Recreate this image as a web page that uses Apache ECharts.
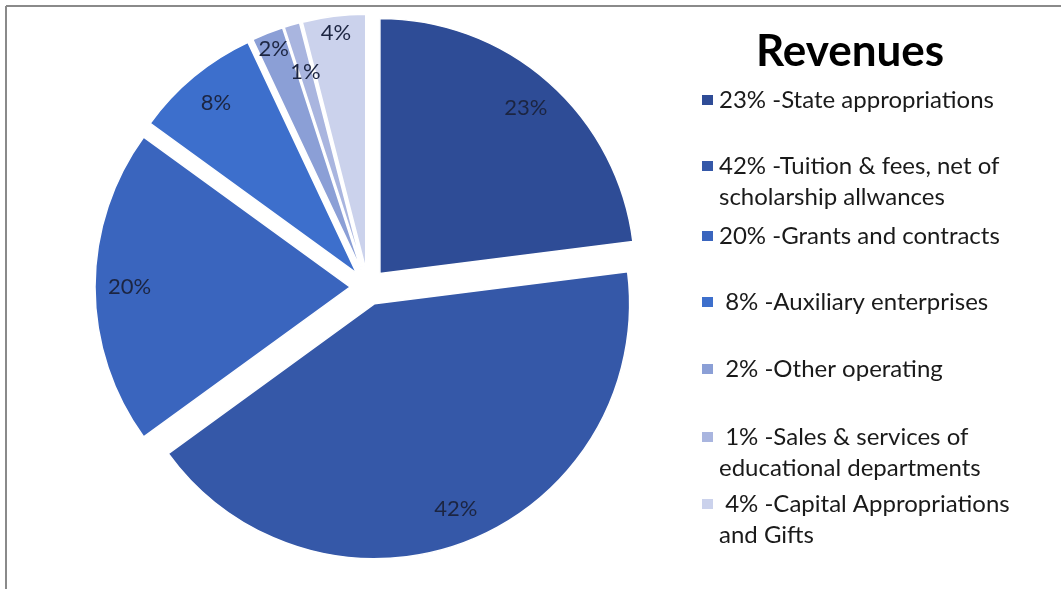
<!DOCTYPE html>
<html>
<head>
<meta charset="utf-8">
<script src="https://cdn.jsdelivr.net/npm/echarts@6/dist/echarts.min.js"></script>
<style>
  html, body { margin: 0; padding: 0; background: #fff; }
  #revenue_pie { width: 1061px; height: 589px; }
</style>
</head>
<body>
<div id="revenue_pie"></div>
<script>
var categories = [
  'State appropriations',
  'Tuition & fees, net of\nscholarship allwances',
  'Grants and contracts',
  'Auxiliary enterprises',
  'Other operating',
  'Sales & services of\neducational departments',
  'Capital Appropriations\nand Gifts'
];
var percents = [23, 42, 20, 8, 2, 1, 4];
var sliceColors = ['#2e4c96', '#3558a8', '#3a65be', '#3d6fcc', '#8b9fd6', '#a9b5df', '#cbd2ec'];
// first-line centre of each legend entry
var legendRows = [100, 166, 236, 302, 369, 437, 504];

var chartDom = document.getElementById('revenue_pie');
var myChart = echarts.init(chartDom);
var option;

var font = 'Lato, "Open Sans", sans-serif';
var lineH = 31;
var pieCenter = [368, 287];

function legendText(name) {
  var i = categories.indexOf(name);
  var txt = (percents[i] < 10 ? ' ' : '') + percents[i] + '% -' + name;
  // blank first line keeps the icon level with the first text line
  return name.indexOf('\n') >= 0 ? ' \n' + txt : txt;
}

var pieData = categories.map(function (name, i) {
  return { name: name, value: percents[i], selected: true, itemStyle: { color: sliceColors[i] } };
});

// transparent ring that only carries some of the percentage labels
function labelRing(inner, shown) {
  return {
    type: 'pie',
    center: pieCenter,
    radius: [inner, 255],
    startAngle: 90,
    clockwise: true,
    selectedMode: 'multiple',
    selectedOffset: 18,
    silent: true,
    avoidLabelOverlap: false,
    itemStyle: { color: 'rgba(0,0,0,0)', borderWidth: 0 },
    label: {
      show: true,
      position: 'inside',
      formatter: '{c}%',
      fontFamily: font,
      fontSize: 22,
      color: '#1c2541'
    },
    labelLine: { show: false },
    emphasis: { disabled: true },
    data: categories.map(function (name, i) {
      return { name: name, value: percents[i], selected: true, label: { show: shown.indexOf(i) >= 0 } };
    })
  };
}

var legends = categories.map(function (name, i) {
  var twoLines = name.indexOf('\n') >= 0;
  return {
    orient: 'vertical',
    left: 700,
    top: legendRows[i] - (twoLines ? lineH * 1.5 : lineH / 2),
    padding: 0,
    itemWidth: 13,
    itemHeight: 12,
    icon: 'rect',
    selectedMode: false,
    formatter: legendText,
    data: [{ name: name, itemStyle: { color: sliceColors[i] } }],
    textStyle: {
      fontFamily: font,
      fontSize: 24,
      lineHeight: lineH,
      color: '#1a1a1a'
    }
  };
});

option = {
  animation: false,
  backgroundColor: '#fff',
  title: {
    text: 'Revenues',
    left: 845,
    textAlign: 'center',
    top: 25,
    textStyle: {
      fontFamily: font,
      fontSize: 44,
      fontWeight: 'bold',
      color: '#000'
    }
  },
  legend: legends,
  graphic: [
    { type: 'line', shape: { x1: 6, y1: 6, x2: 1061, y2: 6 }, style: { stroke: '#8a8a8a', lineWidth: 2 } },
    { type: 'line', shape: { x1: 6, y1: 6, x2: 6, y2: 589 }, style: { stroke: '#8a8a8a', lineWidth: 2 } }
  ],
  series: [
    {
      type: 'pie',
      center: pieCenter,
      radius: [0, 255],
      startAngle: 90,
      clockwise: true,
      selectedMode: 'multiple',
      selectedOffset: 18,
      silent: true,
      itemStyle: { borderColor: '#fff', borderWidth: 1.5 },
      label: { show: false },
      labelLine: { show: false },
      emphasis: { disabled: true },
      data: pieData
    },
    labelRing(180, [0, 1, 2, 3]),
    labelRing(215, [4, 6]),
    labelRing(151, [5])
  ]
};

option && myChart.setOption(option);
</script>
</body>
</html>
